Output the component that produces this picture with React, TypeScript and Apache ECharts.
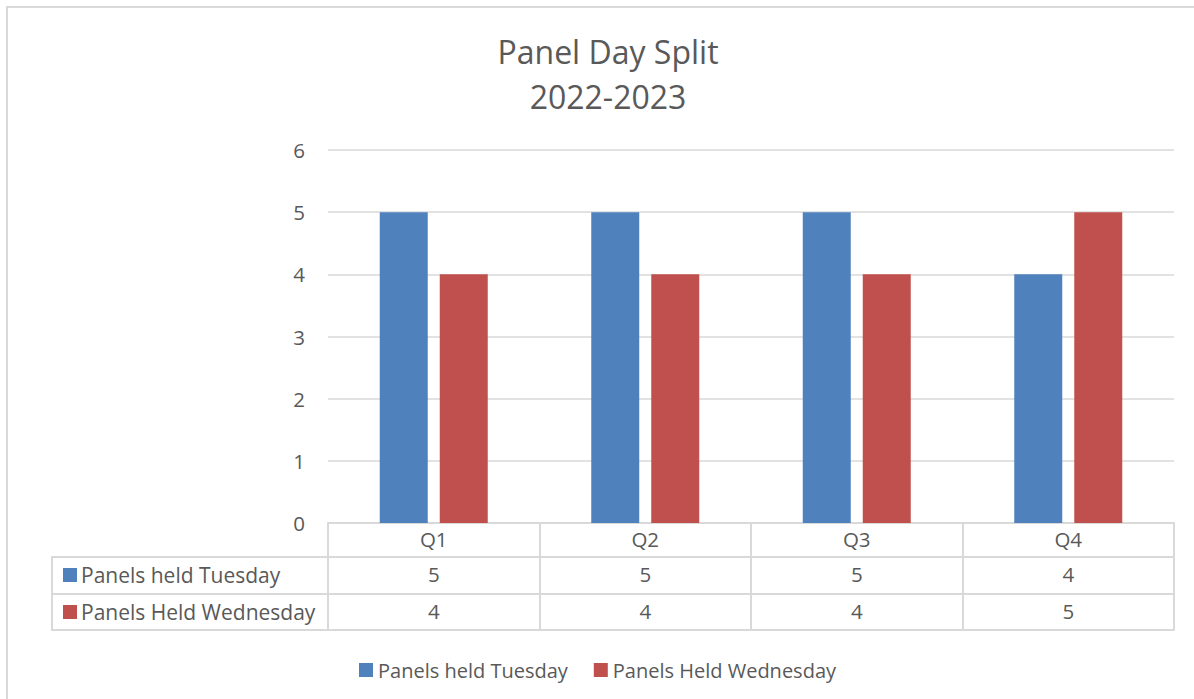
import React, { useEffect, useRef } from "react";
import * as echarts from "echarts";

const categories = ["Q1", "Q2", "Q3", "Q4"];
const seriesNames = ["Panels held Tuesday", "Panels Held Wednesday"];
const tuesday = [5, 5, 5, 4];
const wednesday = [4, 4, 4, 5];
const yTicks = [0, 1, 2, 3, 4, 5, 6];

const COLORS = ["#4f81bd", "#c0504d"];
const TEXT = "#595959";
const LINE = "#d9d9d9";
const FONT = "'Open Sans', sans-serif";

export default function App() {
  const ref = useRef<HTMLDivElement>(null);
  useEffect(() => {
    document.body.style.margin = "0";
    if (!ref.current) return;
    const chart = echarts.init(ref.current, null, { renderer: "svg" });
    const gridLeft = 328;
    const gridRight = 20;
    const gridTop = 150;
    const gridBottom = 176;
    const W = 1194;
    const H = 699;
    const axisY = H - gridBottom; // 523
    const row1 = axisY + 34;
    const row2 = axisY + 71;
    const tableBottom = axisY + 107;
    const tableLeft = 52;
    const rowVals = [tuesday, wednesday];
    const textStyle = { fontFamily: FONT, color: TEXT };
    chart.setOption({
      animation: false,
      textStyle: { fontFamily: FONT },
      title: {
        text: "Panel Day Split\n2022-2023",
        left: 603,
        textAlign: "center",
        top: 24,
        textStyle: { fontFamily: FONT, color: TEXT, fontSize: 32, fontWeight: "normal", lineHeight: 45 },
      },
      legend: {
        data: seriesNames,
        left: 354,
        top: 655,
        itemWidth: 14,
        itemHeight: 14,
        itemGap: 26,
        icon: "rect",
        textStyle: { fontFamily: FONT, color: TEXT, fontSize: 20 },
      },
      grid: { left: gridLeft, right: gridRight, top: gridTop, bottom: gridBottom, containLabel: false },
      xAxis: [
        {
          type: "category",
          data: categories,
          position: "bottom",
          axisLine: { show: true, lineStyle: { color: LINE, width: 2 } },
          axisTick: { show: true, length: 107, lineStyle: { color: LINE, width: 2 } },
          axisLabel: { ...textStyle, fontSize: 20.5, margin: 5 },
        },
        ...rowVals.map((vals, i) => ({
          type: "category",
          data: categories,
          position: "bottom",
          offset: 34 + i * 37,
          axisLine: { show: true, lineStyle: { color: LINE, width: 2 } },
          axisTick: { show: false },
          axisLabel: { ...textStyle, fontSize: 20.5, margin: 6, formatter: (_v: string, idx: number) => String(vals[idx]) },
        })),
        {
          type: "category",
          data: categories,
          position: "bottom",
          offset: 107,
          axisLine: { show: true, lineStyle: { color: LINE, width: 2 } },
          axisTick: { show: false },
          axisLabel: { show: false },
        },
      ],
      yAxis: {
        type: "value",
        min: yTicks[0],
        max: yTicks[yTicks.length - 1],
        interval: 1,
        axisLine: { show: false },
        axisTick: { show: false },
        splitLine: { lineStyle: { color: LINE, width: 1.5 } },
        axisLabel: { ...textStyle, fontSize: 20.5, margin: 23 },
      },
      series: [
        { name: seriesNames[0], type: "bar", data: tuesday, barWidth: 48, barGap: "25%", itemStyle: { color: COLORS[0] } },
        { name: seriesNames[1], type: "bar", data: wednesday, barWidth: 48, barGap: "25%", itemStyle: { color: COLORS[1] } },
      ],
      graphic: [
        { type: "rect", shape: { x: 7, y: 7, width: W + 10, height: H + 10 }, style: { fill: "none", stroke: LINE, lineWidth: 2 }, silent: true },
        { type: "rect", shape: { x: tableLeft, y: row1, width: gridLeft - tableLeft, height: tableBottom - row1 }, style: { fill: "none", stroke: LINE, lineWidth: 2 } },
        { type: "line", shape: { x1: tableLeft, y1: row2, x2: gridLeft, y2: row2 }, style: { stroke: LINE, lineWidth: 2 } },
        ...seriesNames.flatMap((name, i) => {
          const cy = row1 + 18 + i * 37;
          return [
            { type: "rect", shape: { x: 63, y: cy - 7, width: 14, height: 14 }, style: { fill: COLORS[i] } },
            { type: "text", x: 81, y: cy, style: { text: name, fill: TEXT, font: `21px ${FONT}`, verticalAlign: "middle", align: "left" } },
          ];
        }),
      ],
    });
    return () => chart.dispose();
  }, []);
  return <div ref={ref} style={{ width: 1194, height: 699 }} />;
}
